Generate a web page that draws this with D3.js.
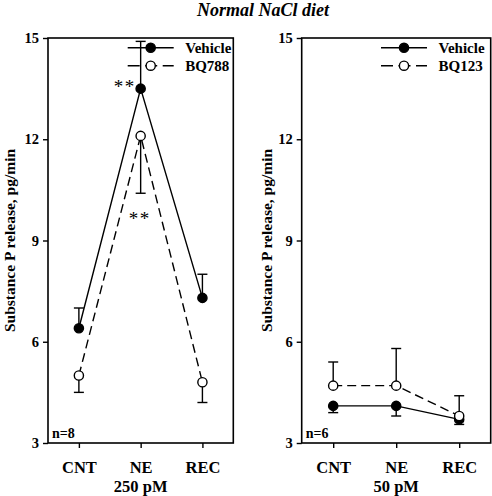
<!DOCTYPE html>
<html>
<head>
<meta charset="utf-8">
<script src="https://cdn.jsdelivr.net/npm/d3@7"></script>
<style>
  html, body { margin: 0; padding: 0; background: #fff; }
  svg { display: block; font-family: "Liberation Serif", "Times New Roman", serif; }
</style>
</head>
<body>
<svg id="chart" width="492" height="496"></svg>
<script>
// ---- data ----
const categories = ["CNT", "NE", "REC"];
const yTicks = [3, 6, 9, 12, 15];
const title = "Normal NaCl diet";
const yLabel = "Substance P release, pg/min";

// Left panel (250 pM, n=8)
const leftVehicle = [6.4, 13.5, 7.3];
const leftVehicleErr = [0.6, 1.4, 0.7];      // drawn upward
const leftBQ788 = [5.0, 12.1, 4.8];
const leftBQ788Err = [0.5, 1.7, 0.6];        // drawn downward

// Right panel (50 pM, n=6)
const rightVehicle = [4.1, 4.1, 3.7];
const rightVehicleErr = [0.2, 0.3, 0.15];    // drawn downward
const rightBQ123 = [4.7, 4.7, 3.8];
const rightBQ123Err = [0.7, 1.1, 0.6];       // drawn upward

// significance marks: [category, y value, x offset]
const leftStars = [["NE", 13.72, -16], ["NE", 9.82, -1]];

const panels = [
  { x0: 48, x1: 233.3, labelX: 14.5, sub: "250 pM", n: "n=8",
    series: [
      { name: "Vehicle", vals: leftVehicle, err: leftVehicleErr, dir: 1, filled: true, dash: null },
      { name: "BQ788", vals: leftBQ788, err: leftBQ788Err, dir: -1, filled: false, dash: "9,5" }
    ],
    stars: leftStars, legendX: 127.7 },
  { x0: 301.7, x1: 490.7, labelX: 271.5, sub: "50 pM", n: "n=6",
    series: [
      { name: "Vehicle", vals: rightVehicle, err: rightVehicleErr, dir: -1, filled: true, dash: null },
      { name: "BQ123", vals: rightBQ123, err: rightBQ123Err, dir: 1, filled: false, dash: "9,5" }
    ],
    stars: [], legendX: 381 }
];

const svg = d3.select("#chart");
const yTop = 38, yBot = 443;
const y = d3.scaleLinear().domain([3, 15]).range([yBot, yTop]);

svg.append("text")
  .attr("x", 263).attr("y", 15.5)
  .attr("text-anchor", "middle")
  .attr("font-size", 18).attr("font-weight", "bold").attr("font-style", "italic")
  .text(title);

panels.forEach(p => {
  const g = svg.append("g");
  const x = d3.scalePoint().domain(categories).range([p.x0, p.x1]).padding(0.5);

  // y axis
  const ya = g.append("g").attr("transform", `translate(${p.x0},0)`)
    .call(d3.axisLeft(y).tickValues(yTicks).tickSize(5).tickSizeOuter(0).tickPadding(4));
  ya.select(".domain").remove();
  ya.selectAll("line").attr("stroke", "#000").attr("stroke-width", 1.4);
  ya.selectAll("text").attr("font-size", 14.5).attr("font-weight", "bold")
    .attr("font-family", "Liberation Serif, serif").attr("fill", "#000");

  // x axis
  const xa = g.append("g").attr("transform", `translate(0,${yBot})`)
    .call(d3.axisBottom(x).tickSize(5).tickSizeOuter(0).tickPadding(13));
  xa.select(".domain").remove();
  xa.selectAll("line").attr("stroke", "#000").attr("stroke-width", 1.4);
  xa.selectAll("text").attr("font-size", 16.5).attr("font-weight", "bold")
    .attr("font-family", "Liberation Serif, serif").attr("fill", "#000");

  // frame
  g.append("rect")
    .attr("x", p.x0).attr("y", yTop)
    .attr("width", p.x1 - p.x0).attr("height", yBot - yTop)
    .attr("fill", "none").attr("stroke", "#000").attr("stroke-width", 1.6);

  // sub label
  g.append("text")
    .attr("x", (p.x0 + p.x1) / 2).attr("y", 492)
    .attr("text-anchor", "middle").attr("font-size", 16.5).attr("font-weight", "bold")
    .text(p.sub);

  // y label
  g.append("text")
    .attr("transform", `translate(${p.labelX},${(yTop + yBot) / 2}) rotate(-90)`)
    .attr("text-anchor", "middle").attr("font-size", 15.5).attr("font-weight", "bold")
    .text(yLabel);

  // n label
  g.append("text")
    .attr("x", p.x0 + 4).attr("y", 438)
    .attr("font-size", 14).attr("font-weight", "bold")
    .text(p.n);

  const line = d3.line().x((d, i) => x(categories[i])).y(d => y(d));

  p.series.forEach(s => {
    // error bars
    s.vals.forEach((v, i) => {
      const cx = x(categories[i]);
      const end = v + s.dir * s.err[i];
      g.append("line").attr("x1", cx).attr("x2", cx).attr("y1", y(v)).attr("y2", y(end))
        .attr("stroke", "#000").attr("stroke-width", 1.4);
      g.append("line").attr("x1", cx - 5).attr("x2", cx + 5).attr("y1", y(end)).attr("y2", y(end))
        .attr("stroke", "#000").attr("stroke-width", 1.4);
    });
    g.append("path").datum(s.vals).attr("d", line)
      .attr("fill", "none").attr("stroke", "#000").attr("stroke-width", 1.4)
      .attr("stroke-dasharray", s.dash);
  });
  p.series.forEach(s => {
    g.selectAll(null).data(s.vals).enter().append("circle")
      .attr("cx", (d, i) => x(categories[i])).attr("cy", d => y(d)).attr("r", 4.6)
      .attr("fill", s.filled ? "#000" : "#fff").attr("stroke", "#000").attr("stroke-width", 1.4);
  });

  // legend
  p.series.forEach((s, k) => {
    const ly = 47.7 + k * 18;
    const lx = p.legendX;
    g.append("line").attr("x1", lx).attr("x2", lx + 46).attr("y1", ly).attr("y2", ly)
      .attr("stroke", "#000").attr("stroke-width", 1.4)
      .attr("stroke-dasharray", s.dash ? "12,5.5" : null);
    g.append("circle").attr("cx", lx + 23).attr("cy", ly).attr("r", 4.6)
      .attr("fill", s.filled ? "#000" : "#fff").attr("stroke", "#000").attr("stroke-width", 1.4);
    g.append("text").attr("x", lx + 57.5).attr("y", ly + 5.5)
      .attr("font-size", 15).attr("font-weight", "bold").text(s.name);
  });

  // significance stars
  p.stars.forEach(st => {
    g.append("text")
      .attr("x", x(st[0]) + st[2]).attr("y", y(st[1]) + 12)
      .attr("text-anchor", "middle").attr("font-size", 19).attr("letter-spacing", 1.5)
      .text("**");
  });
});
</script>
</body>
</html>
